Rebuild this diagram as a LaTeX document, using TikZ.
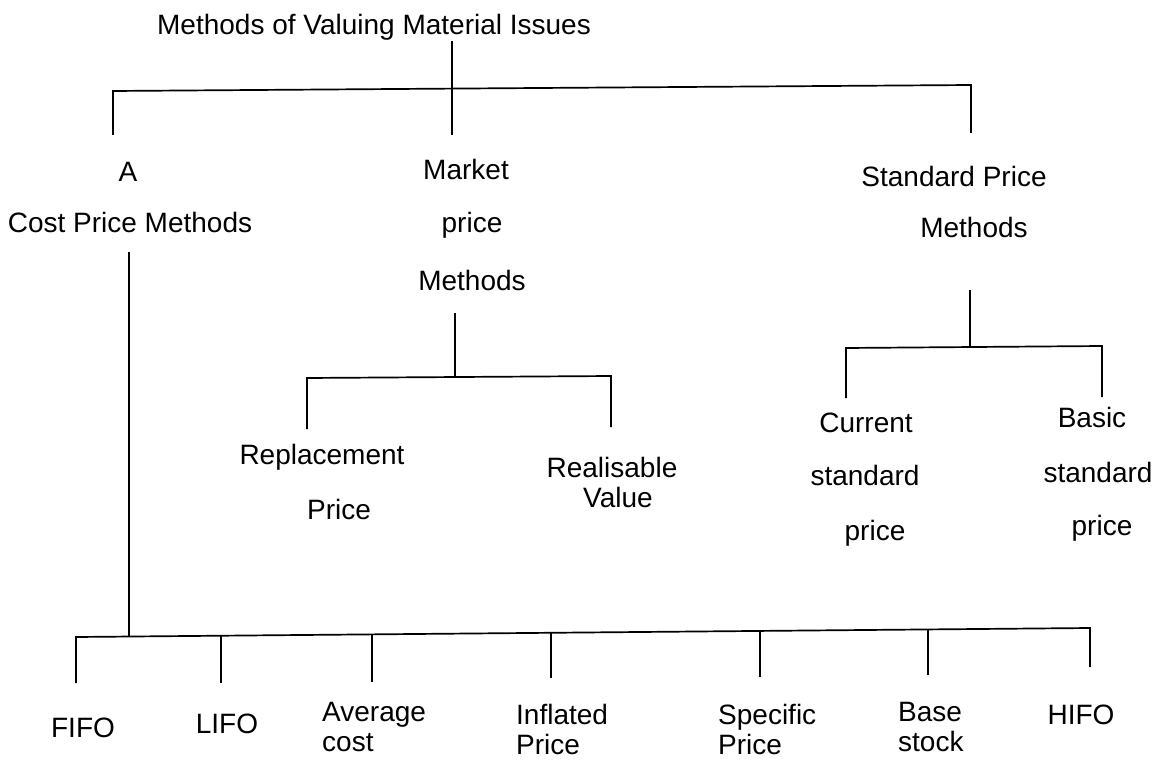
\documentclass[tikz,border=0pt]{standalone}
\usepackage{fontspec}
\setmainfont{Liberation Sans}
\begin{document}
\begin{tikzpicture}[x=1pt,y=-1pt,
  lbl/.style={font=\fontsize{28}{32}\selectfont, inner sep=0pt, anchor=base},
  lbll/.style={lbl, anchor=base west},
  wire/.style={line width=1.7pt, line join=miter}]
\useasboundingbox (0,0) rectangle (1164,762);

% ---- labels ----
\node[lbl] (title) at (374,35) {Methods of Valuing Material Issues};

\node[lbl] (costA) at (128,182) {A};
\node[lbl] (cost)  at (130,232) {Cost Price Methods};

\node[lbl] (mkt1) at (466,180) {Market};
\node[lbl] (mkt2) at (472,233) {price};
\node[lbl] (mkt3) at (472,290) {Methods};

\node[lbl] (std1) at (954,187) {Standard Price};
\node[lbl] (std2) at (974,237) {Methods};

\node[lbl] (rep1) at (322,464) {Replacement};
\node[lbl] (rep2) at (339,519) {Price};
\node[lbl] (rea1) at (612,477) {Realisable};
\node[lbl] (rea2) at (618,507) {Value};

\node[lbl] (cur1) at (866,432) {Current};
\node[lbl] (cur2) at (865,485) {standard};
\node[lbl] (cur3) at (875,540) {price};
\node[lbl] (bas1) at (1092,427) {Basic};
\node[lbl] (bas2) at (1098,482) {standard};
\node[lbl] (bas3) at (1102,535) {price};

\node[lbl]  (fifo) at (83,737)  {FIFO};
\node[lbl]  (lifo) at (227,733) {LIFO};
\node[lbll] (avg1) at (322,721) {Average};
\node[lbll] (avg2) at (322,751) {cost};
\node[lbll] (inf1) at (516,724) {Inflated};
\node[lbll] (inf2) at (516,754) {Price};
\node[lbll] (spe1) at (718,724) {Specific};
\node[lbll] (spe2) at (718,754) {Price};
\node[lbll] (bst1) at (898,721) {Base};
\node[lbll] (bst2) at (898,751) {stock};
\node[lbl]  (hifo) at (1081,724) {HIFO};

% ---- top level bracket ----
\coordinate (tJ)  at (452,88.6);
\coordinate (tL)  at (113,91);
\coordinate (tR)  at (971,85);
\coordinate (tLe) at (113,135);
\coordinate (tMe) at (452,135);
\coordinate (tRe) at (971,133);
\draw[wire] (title.south -| tJ) -- (tJ) -- (tMe);
\draw[wire] (tLe) -- (tL) -- (tJ) -- (tR) -- (tRe);

% ---- market price bracket ----
\coordinate (mS)  at (455,313);
\coordinate (mJ)  at (455,377.2);
\coordinate (mL)  at (307,378);
\coordinate (mR)  at (611,376);
\coordinate (mLe) at (307,429);
\coordinate (mRe) at (611,427);
\draw[wire] (mS) -- (mJ);
\draw[wire] (mLe) -- (mL) -- (mR) -- (mRe);

% ---- standard price bracket ----
\coordinate (sS)  at (970,290);
\coordinate (sJ)  at (970,346.5);
\coordinate (sL)  at (846,348);
\coordinate (sR)  at (1102,346);
\coordinate (sLe) at (846,398);
\coordinate (sRe) at (1102,397);
\draw[wire] (sS) -- (sJ);
\draw[wire] (sLe) -- (sL) -- (sR) -- (sRe);

% ---- cost price methods ----
\coordinate (cS)  at (129,252);
\coordinate (cJ)  at (129,636.5);
\draw[wire] (cS) -- (cJ);

\coordinate (bL) at (76,637);
\coordinate (bR) at (1090,628);
\coordinate (fifoE) at (76,683);
\coordinate (hifoE) at (1090,667);
\draw[wire] (fifoE) -- (bL) -- (bR) -- (hifoE);

\coordinate (lifoT) at (221,635.7); \coordinate (lifoE) at (221,683);
\coordinate (avgT)  at (372,634.4); \coordinate (avgE)  at (372,682);
\coordinate (infT)  at (551,632.8); \coordinate (infE)  at (551,678);
\coordinate (speT)  at (760,630.9); \coordinate (speE)  at (760,677);
\coordinate (bstT)  at (928,629.4); \coordinate (bstE)  at (928,675);
\draw[wire] (lifoT) -- (lifoE);
\draw[wire] (avgT) -- (avgE);
\draw[wire] (infT) -- (infE);
\draw[wire] (speT) -- (speE);
\draw[wire] (bstT) -- (bstE);
\end{tikzpicture}
\end{document}
